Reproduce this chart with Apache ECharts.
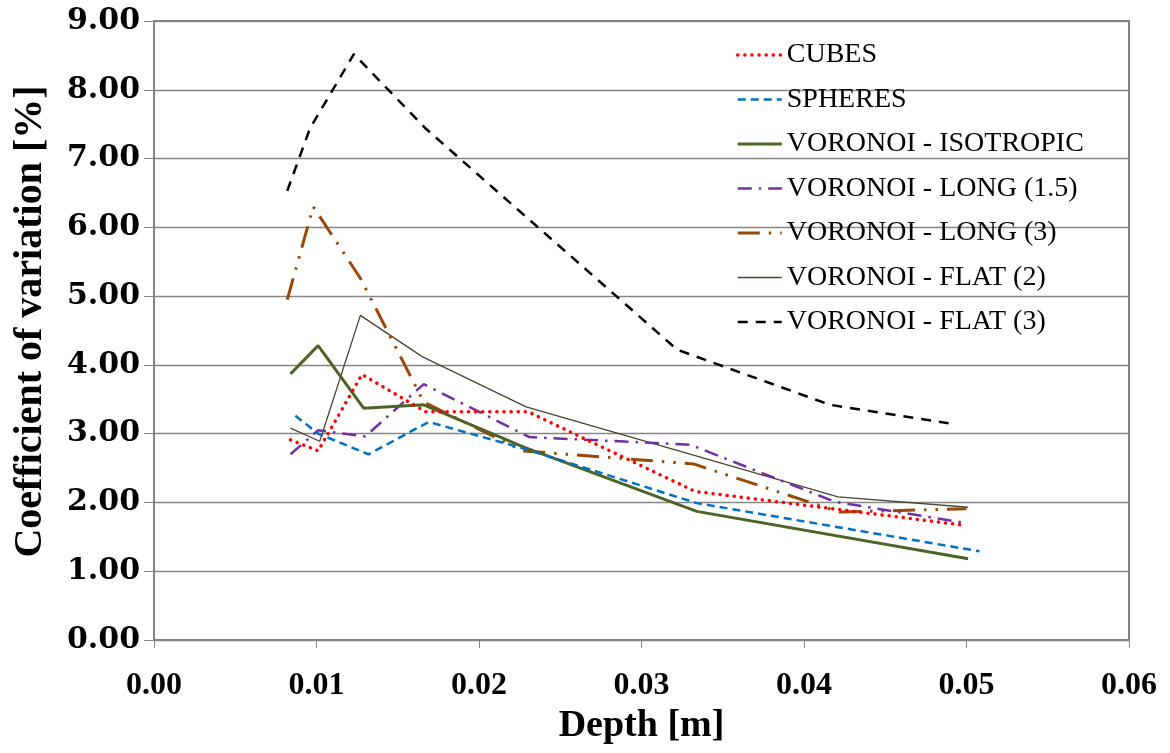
<!DOCTYPE html>
<html>
<head>
<meta charset="utf-8">
<script src="https://cdn.jsdelivr.net/npm/echarts@6/dist/echarts.min.js"></script>
<style>html,body{margin:0;padding:0;background:#fff;}#c{width:1170px;height:753px;}</style>
</head>
<body>
<div id="c"></div>
<script>
// Data (depth [m], coefficient of variation [%])
const seriesNames = ["CUBES", "SPHERES", "VORONOI - ISOTROPIC", "VORONOI - LONG (1.5)", "VORONOI - LONG (3)", "VORONOI - FLAT (2)", "VORONOI - FLAT (3)"];

const cubesX = [0.0084, 0.0101, 0.0128, 0.0167, 0.0230, 0.0333, 0.0498];
const cubesY = [2.91, 2.75, 3.86, 3.32, 3.32, 2.16, 1.67];

const spheresX = [0.0087, 0.0101, 0.0132, 0.0169, 0.0228, 0.0334, 0.0508];
const spheresY = [3.26, 3.00, 2.70, 3.17, 2.78, 1.99, 1.29];

const isoX = [0.0084, 0.0101, 0.0129, 0.0166, 0.0228, 0.0334, 0.0501];
const isoY = [3.87, 4.28, 3.37, 3.42, 2.80, 1.87, 1.18];

const long15X = [0.0084, 0.0101, 0.0130, 0.0166, 0.0231, 0.0330, 0.0419, 0.0500];
const long15Y = [2.70, 3.05, 2.96, 3.72, 2.95, 2.84, 2.01, 1.70];

const long3X = [0.0082, 0.0098, 0.0127, 0.0166, 0.0227, 0.0332, 0.0422, 0.0500];
const long3Y = [4.95, 6.30, 5.26, 3.46, 2.75, 2.56, 1.86, 1.91];

const flat2X = [0.0084, 0.0102, 0.0127, 0.0165, 0.0229, 0.0421, 0.0501];
const flat2Y = [3.08, 2.89, 4.72, 4.12, 3.39, 2.08, 1.93];

const flat3X = [0.0082, 0.0096, 0.0123, 0.0167, 0.0322, 0.0416, 0.0489];
const flat3Y = [6.53, 7.44, 8.52, 7.44, 4.22, 3.42, 3.15];

const xTicks = [0.00, 0.01, 0.02, 0.03, 0.04, 0.05, 0.06];
const yTicks = [0, 1, 2, 3, 4, 5, 6, 7, 8, 9];

function pairs(xs, ys) { return xs.map((x, i) => [x, ys[i]]); }

const styles = [
  { color: '#FF0000', width: 3.5, type: [0.1, 7], cap: 'round' },
  { color: '#0070C0', width: 2.5, type: [8, 5], cap: 'butt' },
  { color: '#4F6228', width: 3, type: 'solid', cap: 'butt' },
  { color: '#7030A0', width: 2.5, type: [14, 7, 2.5, 7], cap: 'butt' },
  { color: '#984807', width: 3, type: [22, 9, 2.5, 9, 2.5, 9], cap: 'butt' },
  { color: '#4A4530', width: 1.3, type: 'solid', cap: 'butt' },
  { color: '#000000', width: 2.5, type: [10, 8], cap: 'butt' }
];
const dataSets = [
  pairs(cubesX, cubesY), pairs(spheresX, spheresY), pairs(isoX, isoY),
  pairs(long15X, long15Y), pairs(long3X, long3Y), pairs(flat2X, flat2Y), pairs(flat3X, flat3Y)
];

function lineStyleOf(s) {
  return { color: s.color, width: s.width, type: s.type, cap: s.cap };
}

const chart = echarts.init(document.getElementById('c'), null, { renderer: 'canvas' });
chart.setOption({
  animation: false,
  backgroundColor: '#ffffff',
  grid: { left: 154, right: 41, top: 21, bottom: 113, containLabel: false, outerBoundsMode: 'none',
    show: true, borderColor: '#555555', borderWidth: 1.5, backgroundColor: 'transparent' },
  legend: {
    orient: 'vertical', left: 731, top: 36,
    itemWidth: 44, itemHeight: 14, itemGap: 16.5,
    data: seriesNames.map((n, i) => ({ name: n, lineStyle: lineStyleOf(styles[i]) })),
    itemStyle: { opacity: 0, borderWidth: 0 },
    textStyle: { fontFamily: 'Liberation Serif', fontSize: 28, color: '#000', lineHeight: 28 }
  },
  xAxis: {
    type: 'value', min: 0, max: 0.06, interval: 0.01,
    name: 'Depth [m]', nameLocation: 'middle', nameGap: 66,
    nameTextStyle: { fontFamily: 'Liberation Serif', fontWeight: 'bold', fontSize: 38, color: '#000' },
    axisLine: { show: true, lineStyle: { color: '#868686', width: 1.5 } },
    axisTick: { show: true, length: 8, lineStyle: { color: '#868686' } },
    axisLabel: { margin: 30, fontFamily: 'Liberation Serif', fontWeight: 'bold', fontSize: 32, color: '#000',
      formatter: v => v.toFixed(2) },
    splitLine: { show: false }
  },
  yAxis: {
    type: 'value', min: 0, max: 9, interval: 1,
    name: 'Coefficient of variation [%]', nameLocation: 'middle', nameGap: 103,
    nameTextStyle: { fontFamily: 'Liberation Serif', fontWeight: 'bold', fontSize: 40, color: '#000', padding: [0, 0, 0, 18] },
    axisLine: { show: true, lineStyle: { color: '#868686', width: 1.5 } },
    axisTick: { show: true, length: 10, lineStyle: { color: '#868686' } },
    axisLabel: { margin: 14, fontFamily: 'DejaVu Serif', fontWeight: 'bold', fontSize: 30, color: '#000',
      formatter: v => v.toFixed(2) },
    splitLine: { show: true, lineStyle: { color: '#868686', width: 1.3 } }
  },
  series: seriesNames.map((n, i) => ({
    name: n, type: 'line', data: dataSets[i], showSymbol: false, symbol: 'none',
    lineStyle: lineStyleOf(styles[i]),
    itemStyle: { color: styles[i].color },
    z: 10 - i
  }))
});
</script>
</body>
</html>
